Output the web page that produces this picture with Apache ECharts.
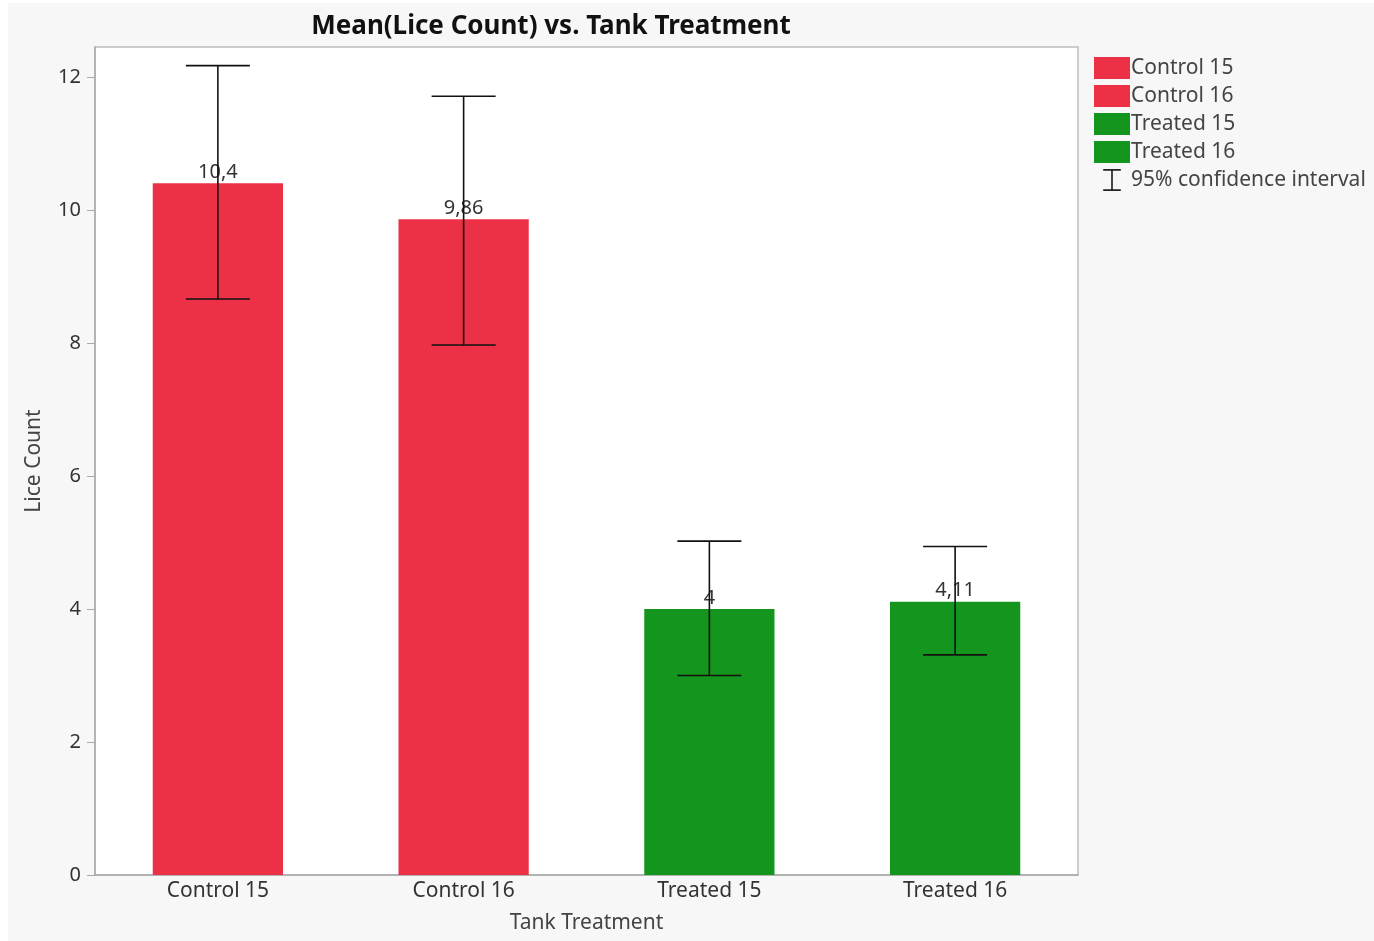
<!DOCTYPE html>
<html>
<head>
<meta charset="utf-8">
<script src="https://cdn.jsdelivr.net/npm/echarts@6/dist/echarts.min.js"></script>
<style>
html,body{margin:0;padding:0;background:#fff;}
#chart{width:1374px;height:941px;}
</style>
</head>
<body>
<div id="chart"></div>
<script>
var categories = ['Control 15', 'Control 16', 'Treated 15', 'Treated 16'];
var means = [10.4, 9.86, 4, 4.11];
var ciLower = [8.66, 7.97, 3.0, 3.31];
var ciUpper = [12.17, 11.71, 5.02, 4.94];
var barColors = ['#EC3045', '#EC3045', '#14961E', '#14961E'];
var yTicks = [0, 2, 4, 6, 8, 10, 12];

var chart = echarts.init(document.getElementById('chart'));
var FONT = 'Noto Sans';

var barSeries = categories.map(function (c, i) {
  var d = categories.map(function (_, j) { return j === i ? means[i] : '-'; });
  return {
    name: c,
    type: 'bar',
    stack: 'all',
    barWidth: '53%',
    data: d,
    itemStyle: { color: barColors[i] },
    label: {
      show: true,
      position: 'top',
      distance: 1,
      color: '#333',
      fontFamily: FONT,
      fontSize: 20,
      formatter: function (p) { return String(p.value).replace('.', ','); }
    },
    emphasis: { disabled: true }
  };
});

var ciSeries = {
  name: '95% confidence interval',
  type: 'custom',
  z: 10,
  itemStyle: { color: '#111' },
  data: categories.map(function (c, i) { return [i, ciLower[i], ciUpper[i]]; }),
  encode: { x: 0, y: [1, 2] },
  renderItem: function (params, api) {
    var lo = api.coord([api.value(0), api.value(1)]);
    var hi = api.coord([api.value(0), api.value(2)]);
    var hw = 32;
    var st = { stroke: '#111', lineWidth: 1.6 };
    return {
      type: 'group',
      children: [
        { type: 'line', shape: { x1: lo[0], y1: lo[1], x2: hi[0], y2: hi[1] }, style: st },
        { type: 'line', shape: { x1: lo[0] - hw, y1: lo[1], x2: lo[0] + hw, y2: lo[1] }, style: st },
        { type: 'line', shape: { x1: hi[0] - hw, y1: hi[1], x2: hi[0] + hw, y2: hi[1] }, style: st }
      ]
    };
  }
};

var option = {
  backgroundColor: '#fff',
  animation: false,
  graphic: [{
    type: 'rect', z: -10, silent: true,
    shape: { x: 8, y: 3, width: 1366, height: 938 },
    style: { fill: '#f7f7f7' }
  }],
  title: {
    text: 'Mean(Lice Count) vs. Tank Treatment',
    left: 546, top: 9, textAlign: 'center',
    textStyle: { fontFamily: FONT, fontSize: 26, fontWeight: 'bold', color: '#111' }
  },
  legend: {
    orient: 'vertical',
    left: 1089, top: 52,
    itemWidth: 36, itemHeight: 22, itemGap: 6,
    textStyle: { fontFamily: FONT, fontSize: 21, color: '#444', padding: [0, 0, 0, -4] },
    data: categories.map(function (c) { return { name: c, icon: 'rect' }; }).concat([{
      name: '95% confidence interval',
      icon: 'path://M0,0h16v1.5h-7.25v17h7.25v1.5h-16v-1.5h7.25v-17h-7.25z',
      itemStyle: { color: '#222' }
    }])
  },
  grid: {
    left: 95, right: 296, top: 47, bottom: 66,
    show: true, backgroundColor: '#fff', borderColor: '#bdbdbd', borderWidth: 1.5
  },
  xAxis: {
    type: 'category',
    data: categories,
    name: 'Tank Treatment',
    nameLocation: 'middle',
    nameGap: 38,
    nameTextStyle: { fontFamily: FONT, fontSize: 21, color: '#444' },
    axisLine: { lineStyle: { color: '#aaa', width: 1.5 } },
    axisTick: { show: false },
    axisLabel: { fontFamily: FONT, fontSize: 21, color: '#333', margin: 6 }
  },
  yAxis: {
    type: 'value',
    min: 0, max: 12.45, interval: 2,
    name: 'Lice Count',
    nameLocation: 'middle',
    nameGap: 50,
    nameTextStyle: { fontFamily: FONT, fontSize: 21, color: '#444' },
    axisLine: { show: true, lineStyle: { color: '#aaa', width: 1.5 } },
    axisTick: { show: true, length: 8, lineStyle: { color: '#aaa' }, customValues: yTicks },
    axisLabel: { fontFamily: FONT, fontSize: 20, color: '#333', margin: 14, customValues: yTicks },
    splitLine: { show: false }
  },
  series: barSeries.concat([ciSeries])
};
chart.setOption(option);
</script>
</body>
</html>
